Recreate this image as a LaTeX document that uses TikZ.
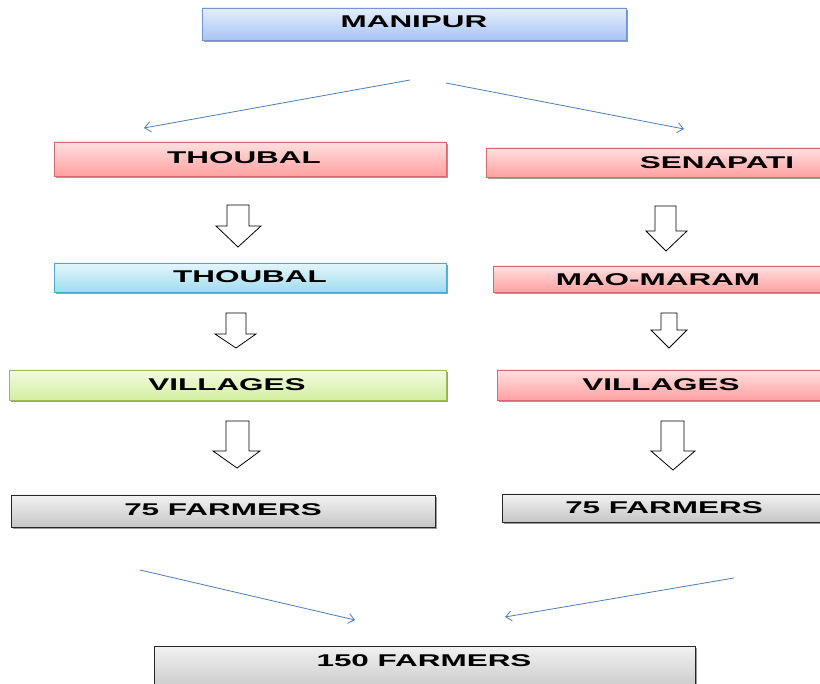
\documentclass[tikz,border=0pt]{standalone}
\usepackage{fontspec}
\usepackage{graphicx}
\usetikzlibrary{arrows.meta,shadows}
\newfontfamily\af{Liberation Sans}
\newcommand{\boxtxt}[1]{\scalebox{1.85}[1]{\af\bfseries\fontsize{17}{20}\selectfont #1}}
\definecolor{lineblue}{HTML}{4A7EBB}
\tikzset{
  bx/.style={line width=0.8pt, drop shadow={shadow xshift=1.5pt, shadow yshift=-2pt, fill=black!55, opacity=0.7}},
  bluebox/.style={bx, draw=HTMLb, top color=HTMLbt, bottom color=HTMLbb},
  redbox/.style={bx, draw=HTMLr, top color=HTMLrt, bottom color=HTMLrb},
  cyanbox/.style={bx, draw=HTMLc, top color=HTMLct, bottom color=HTMLcb},
  greenbox/.style={bx, draw=HTMLg, top color=HTMLgt, bottom color=HTMLgb},
  graybox/.style={bx, draw=black!85, top color=HTMLyt, bottom color=HTMLyb},
  lbl/.style={inner sep=0pt, text=black},
  blockarrow/.style={draw=black, fill=white, line width=0.8pt, line join=miter},
  flow/.style={draw=lineblue, line width=0.8pt, -{Straight Barb[length=6pt,width=10pt,line width=0.8pt]}}
}
\definecolor{HTMLb}{HTML}{7096D0}
\definecolor{HTMLbt}{HTML}{E6EEFC}
\definecolor{HTMLbb}{HTML}{A8C4F4}
\definecolor{HTMLr}{HTML}{D46A6A}
\definecolor{HTMLrt}{HTML}{FFE0E0}
\definecolor{HTMLrb}{HTML}{FFA0A0}
\definecolor{HTMLc}{HTML}{4BACC6}
\definecolor{HTMLct}{HTML}{E4F6FC}
\definecolor{HTMLcb}{HTML}{A0DCEE}
\definecolor{HTMLg}{HTML}{9BBB59}
\definecolor{HTMLgt}{HTML}{F3FBE0}
\definecolor{HTMLgb}{HTML}{D2EFA0}
\definecolor{HTMLyt}{HTML}{F2F2F2}
\definecolor{HTMLyb}{HTML}{C6C6C6}
\begin{document}
\begin{tikzpicture}[x=1pt,y=-1pt]
\useasboundingbox (0,0) rectangle (820,684);
\clip (0,0) rectangle (820,684);
\fill[white] (0,0) rectangle (820,684);

% boxes
\path[bluebox]  (202,8) rectangle (626,40);
\node[lbl] (manipur) at (414,22) {\boxtxt{MANIPUR}};

\path[redbox]   (54,142) rectangle (446,176);
\node[lbl] (thoubalD) at (244,158) {\boxtxt{THOUBAL}};

\path[redbox]   (486,148) rectangle (950,177);
\node[lbl] (senapati) at (717,163) {\boxtxt{SENAPATI}};

\path[cyanbox]  (54,263) rectangle (446,292);
\node[lbl] (thoubalB) at (250,277) {\boxtxt{THOUBAL}};

\path[redbox]   (493,266) rectangle (824,292);
\node[lbl] (maomaram) at (658,280) {\boxtxt{MAO-MARAM}};

\path[greenbox] (9,370) rectangle (446,400);
\node[lbl] (villA) at (227,385) {\boxtxt{VILLAGES}};

\path[redbox]   (497,370) rectangle (825,400);
\node[lbl] (villB) at (661,385) {\boxtxt{VILLAGES}};

\path[graybox]  (11,495) rectangle (435,527);
\node[lbl] (farmA) at (223,510) {\boxtxt{75 FARMERS}};

\path[graybox]  (502,494) rectangle (826,522);
\node[lbl] (farmB) at (664,508) {\boxtxt{75 FARMERS}};

\path[graybox]  (154,646) rectangle (695,692);
\node[lbl] (farmT) at (424,661) {\boxtxt{150 FARMERS}};

% block arrows (left column)
\path[blockarrow] (227,205) -- (249,205) -- (249,226) -- (261,226) -- (238,247) -- (216,226) -- (227,226) -- cycle;
\path[blockarrow] (226,313) -- (246,313) -- (246,334) -- (256,334) -- (236,348) -- (215,334) -- (226,334) -- cycle;
\path[blockarrow] (226,421) -- (249,421) -- (249,451) -- (260,451) -- (237,468) -- (213,451) -- (226,451) -- cycle;
% block arrows (right column)
\path[blockarrow] (655,206) -- (676,206) -- (676,231) -- (687,231) -- (666,251) -- (646,231) -- (655,231) -- cycle;
\path[blockarrow] (661,313) -- (677,313) -- (677,330) -- (687,330) -- (669,348) -- (651,330) -- (661,330) -- cycle;
\path[blockarrow] (661,421) -- (684,421) -- (684,451) -- (695,451) -- (673,470) -- (651,451) -- (661,451) -- cycle;

% flow lines
\coordinate (s1) at (410,80);
\coordinate (e1) at (144,128);
\coordinate (s2) at (446,83);
\coordinate (e2) at (684,129);
\coordinate (s3) at (140,570);
\coordinate (e3) at (355,620);
\coordinate (s4) at (734,578);
\coordinate (e4) at (505,617);
\draw[flow] (s1) -- (e1);
\draw[flow] (s2) -- (e2);
\draw[flow] (s3) -- (e3);
\draw[flow] (s4) -- (e4);
\end{tikzpicture}
\end{document}
